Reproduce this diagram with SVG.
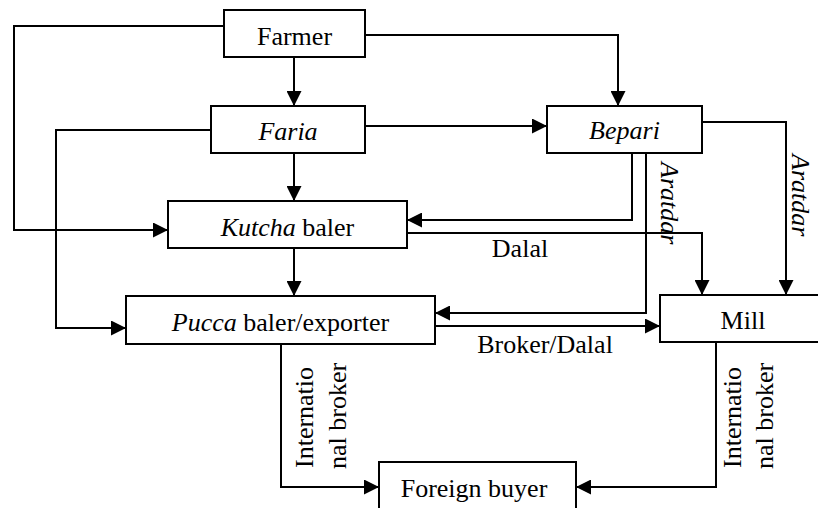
<svg xmlns="http://www.w3.org/2000/svg" width="818" height="508" viewBox="0 0 818 508" font-family="'Liberation Serif', 'Times New Roman', Tinos, 'DejaVu Serif', serif">
<style>
.box{fill:#fff;stroke:#000;stroke-width:2}
.ln{fill:none;stroke:#000;stroke-width:2;marker-end:url(#ah)}
text{font-family:'Liberation Serif','Times New Roman',Tinos,'DejaVu Serif',serif;font-size:26px;fill:#000}
.c{text-anchor:middle}
.i{font-style:italic}
</style>
<defs>
<marker id="ah" markerUnits="userSpaceOnUse" markerWidth="15" markerHeight="15" refX="15" refY="7.5" orient="auto">
<path d="M0,0 L15,7.5 L0,15 z" fill="#000"/>
</marker>
</defs>
<rect width="818" height="508" fill="#fff"/>
<g id="connectors">
<path class="ln" d="M224,26 H14 V230 H168"/>
<path class="ln" d="M365,35 H618 V106"/>
<path class="ln" d="M294,57 V106"/>
<path class="ln" d="M211,130 H56 V328 H126"/>
<path class="ln" d="M365,126 H547"/>
<path class="ln" d="M294,153 V201"/>
<path class="ln" d="M294,248 V296"/>
<path class="ln" d="M632,153 V220 H407"/>
<path class="ln" d="M646,153 V313 H435"/>
<path class="ln" d="M407,233 H702 V295"/>
<path class="ln" d="M702,122 H786 V295"/>
<path class="ln" d="M435,326 H660"/>
<path class="ln" d="M281,344 V487 H379"/>
<path class="ln" d="M716,342 V487 H576"/>
<text x="520" y="257" class="c">Dalal</text>
<text x="545" y="353" class="c">Broker/Dalal</text>
<text class="i" transform="translate(661,162) rotate(90)">Aratdar</text>
<text class="i" transform="translate(792,154) rotate(90)">Aratdar</text>
<text transform="translate(313,468) rotate(-90)">Internatio</text>
<text transform="translate(346,469) rotate(-90)">nal broker</text>
<text transform="translate(741,468) rotate(-90)">Internatio</text>
<text transform="translate(773,469) rotate(-90)">nal broker</text>
</g>
<g id="farmer"><rect class="box" x="224" y="10" width="141" height="47"/><text x="294.5" y="45" class="c">Farmer</text></g>
<g id="faria"><rect class="box" x="211" y="106" width="154" height="47"/><text x="288" y="140" class="c i">Faria</text></g>
<g id="bepari"><rect class="box" x="547" y="106" width="155" height="47"/><text x="624.5" y="139" class="c i">Bepari</text></g>
<g id="kutcha"><rect class="box" x="168" y="201" width="239" height="47"/><text x="287.5" y="236" class="c"><tspan class="i">Kutcha</tspan> baler</text></g>
<g id="pucca"><rect class="box" x="126" y="296" width="309" height="48"/><text x="280.5" y="331" class="c"><tspan class="i">Pucca</tspan> baler/exporter</text></g>
<g id="mill"><rect class="box" x="660" y="295" width="170" height="47"/><text x="743" y="329" class="c">Mill</text></g>
<g id="foreign"><rect class="box" x="379" y="462" width="197" height="60"/><text x="474" y="497" class="c">Foreign buyer</text></g>
</svg>
